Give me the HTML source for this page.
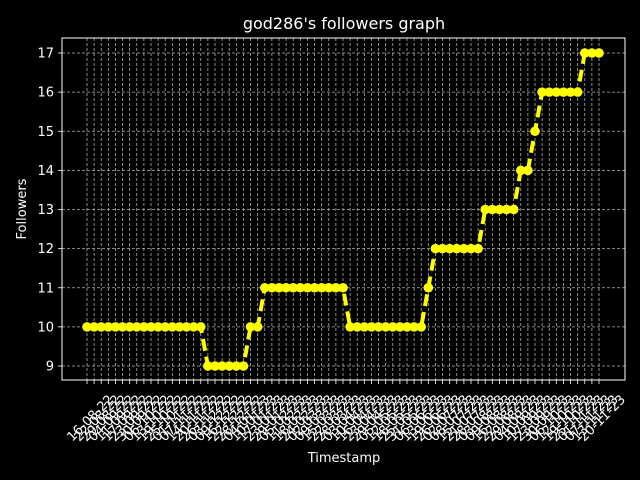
<!DOCTYPE html>
<html><head><meta charset="utf-8"><style>
body{margin:0;background:#000;}
svg{display:block;font-family:"DejaVu Sans","Liberation Sans",sans-serif;}
</style></head><body>
<svg id="chart" width="640" height="480">
<rect width="640" height="480" fill="#000"/>
<text x="344" y="29" fill="#fff" font-size="16" text-anchor="middle">god286's followers graph</text>
<text x="344" y="462" fill="#fff" font-size="13" text-anchor="middle">Timestamp</text>
<text x="26" y="209" fill="#fff" font-size="13" text-anchor="middle" transform="rotate(-90 26 209)">Followers</text>
<g id="grid"></g><g id="xt"></g><g id="yt"></g><g id="series"></g>
<rect x="62" y="38" width="563" height="342" fill="none" stroke="#fff" stroke-width="1"/>
</svg>
<script>
const followers = [10,10,10,10,10,10,10,10,10,10,10,10,10,10,10,10,10,
9,9,9,9,9,9,
10,10,
11,11,11,11,11,11,11,11,11,11,11,11,
10,10,10,10,10,10,10,10,10,10,10,
11,
12,12,12,12,12,12,12,
13,13,13,13,13,
14,14,
15,
16,16,16,16,16,16,
17,17,17];
const yTicks = [9,10,11,12,13,14,15,16,17];
const startDate = [2022,7,16];
const dayStep = 6.4;
const ns="http://www.w3.org/2000/svg";
function mk(t,a,p){const e=document.createElementNS(ns,t);for(const k in a)e.setAttribute(k,a[k]);p.appendChild(e);return e;}
const n=followers.length;
function X(i){return 87+i*(599-87)/(n-1);}
function Y(v){return 366-(v-9)*39.125;}
const labels=[];
for(let i=0;i<n;i++){const d=new Date(startDate[0],startDate[1],startDate[2]+Math.round(i*dayStep));
labels.push(String(d.getDate()).padStart(2,'0')+'-'+String(d.getMonth()+1).padStart(2,'0')+'-'+String(d.getFullYear()%100));}
const grid=document.getElementById('grid'),xt=document.getElementById('xt'),yt=document.getElementById('yt'),se=document.getElementById('series');
for(let i=0;i<n;i++){const x=X(i);
const g=mk('line',{x1:x,x2:x,y1:38,y2:380,stroke:'#b0b0b0','stroke-width':0.8,'stroke-dasharray':'3,2'},grid);


const t=mk('line',{x1:x,x2:x,y1:380,y2:384,stroke:'#fff','stroke-width':0.8},xt);


const cx=x+3, cy=418;
const l=mk('text',{x:cx,y:cy+4.5,fill:'#fff','font-size':13,'text-anchor':'middle',transform:`rotate(-45 ${cx} ${cy})`},xt);
l.textContent=labels[i];

}
for(const v of yTicks){const y=Y(v);
const g=mk('line',{x1:62,x2:625,y1:y,y2:y,stroke:'#b0b0b0','stroke-width':0.8,'stroke-dasharray':'3,2'},grid);


const t=mk('line',{x1:58,x2:62,y1:y,y2:y,stroke:'#fff','stroke-width':0.8},yt);


const l=mk('text',{x:54,y:y+4.5,fill:'#fff','font-size':13,'text-anchor':'end'},yt);
l.textContent=v;

}
const pl=mk('polyline',{points:followers.map((v,i)=>X(i)+','+Y(v)).join(' '),fill:'none',stroke:'#ffff00','stroke-width':4,'stroke-dasharray':'12,6'},se);


followers.forEach((v,i)=>{const c=mk('circle',{cx:X(i),cy:Y(v),r:4.8,fill:'#ffff00'},se);

});
</script>
</body></html>
